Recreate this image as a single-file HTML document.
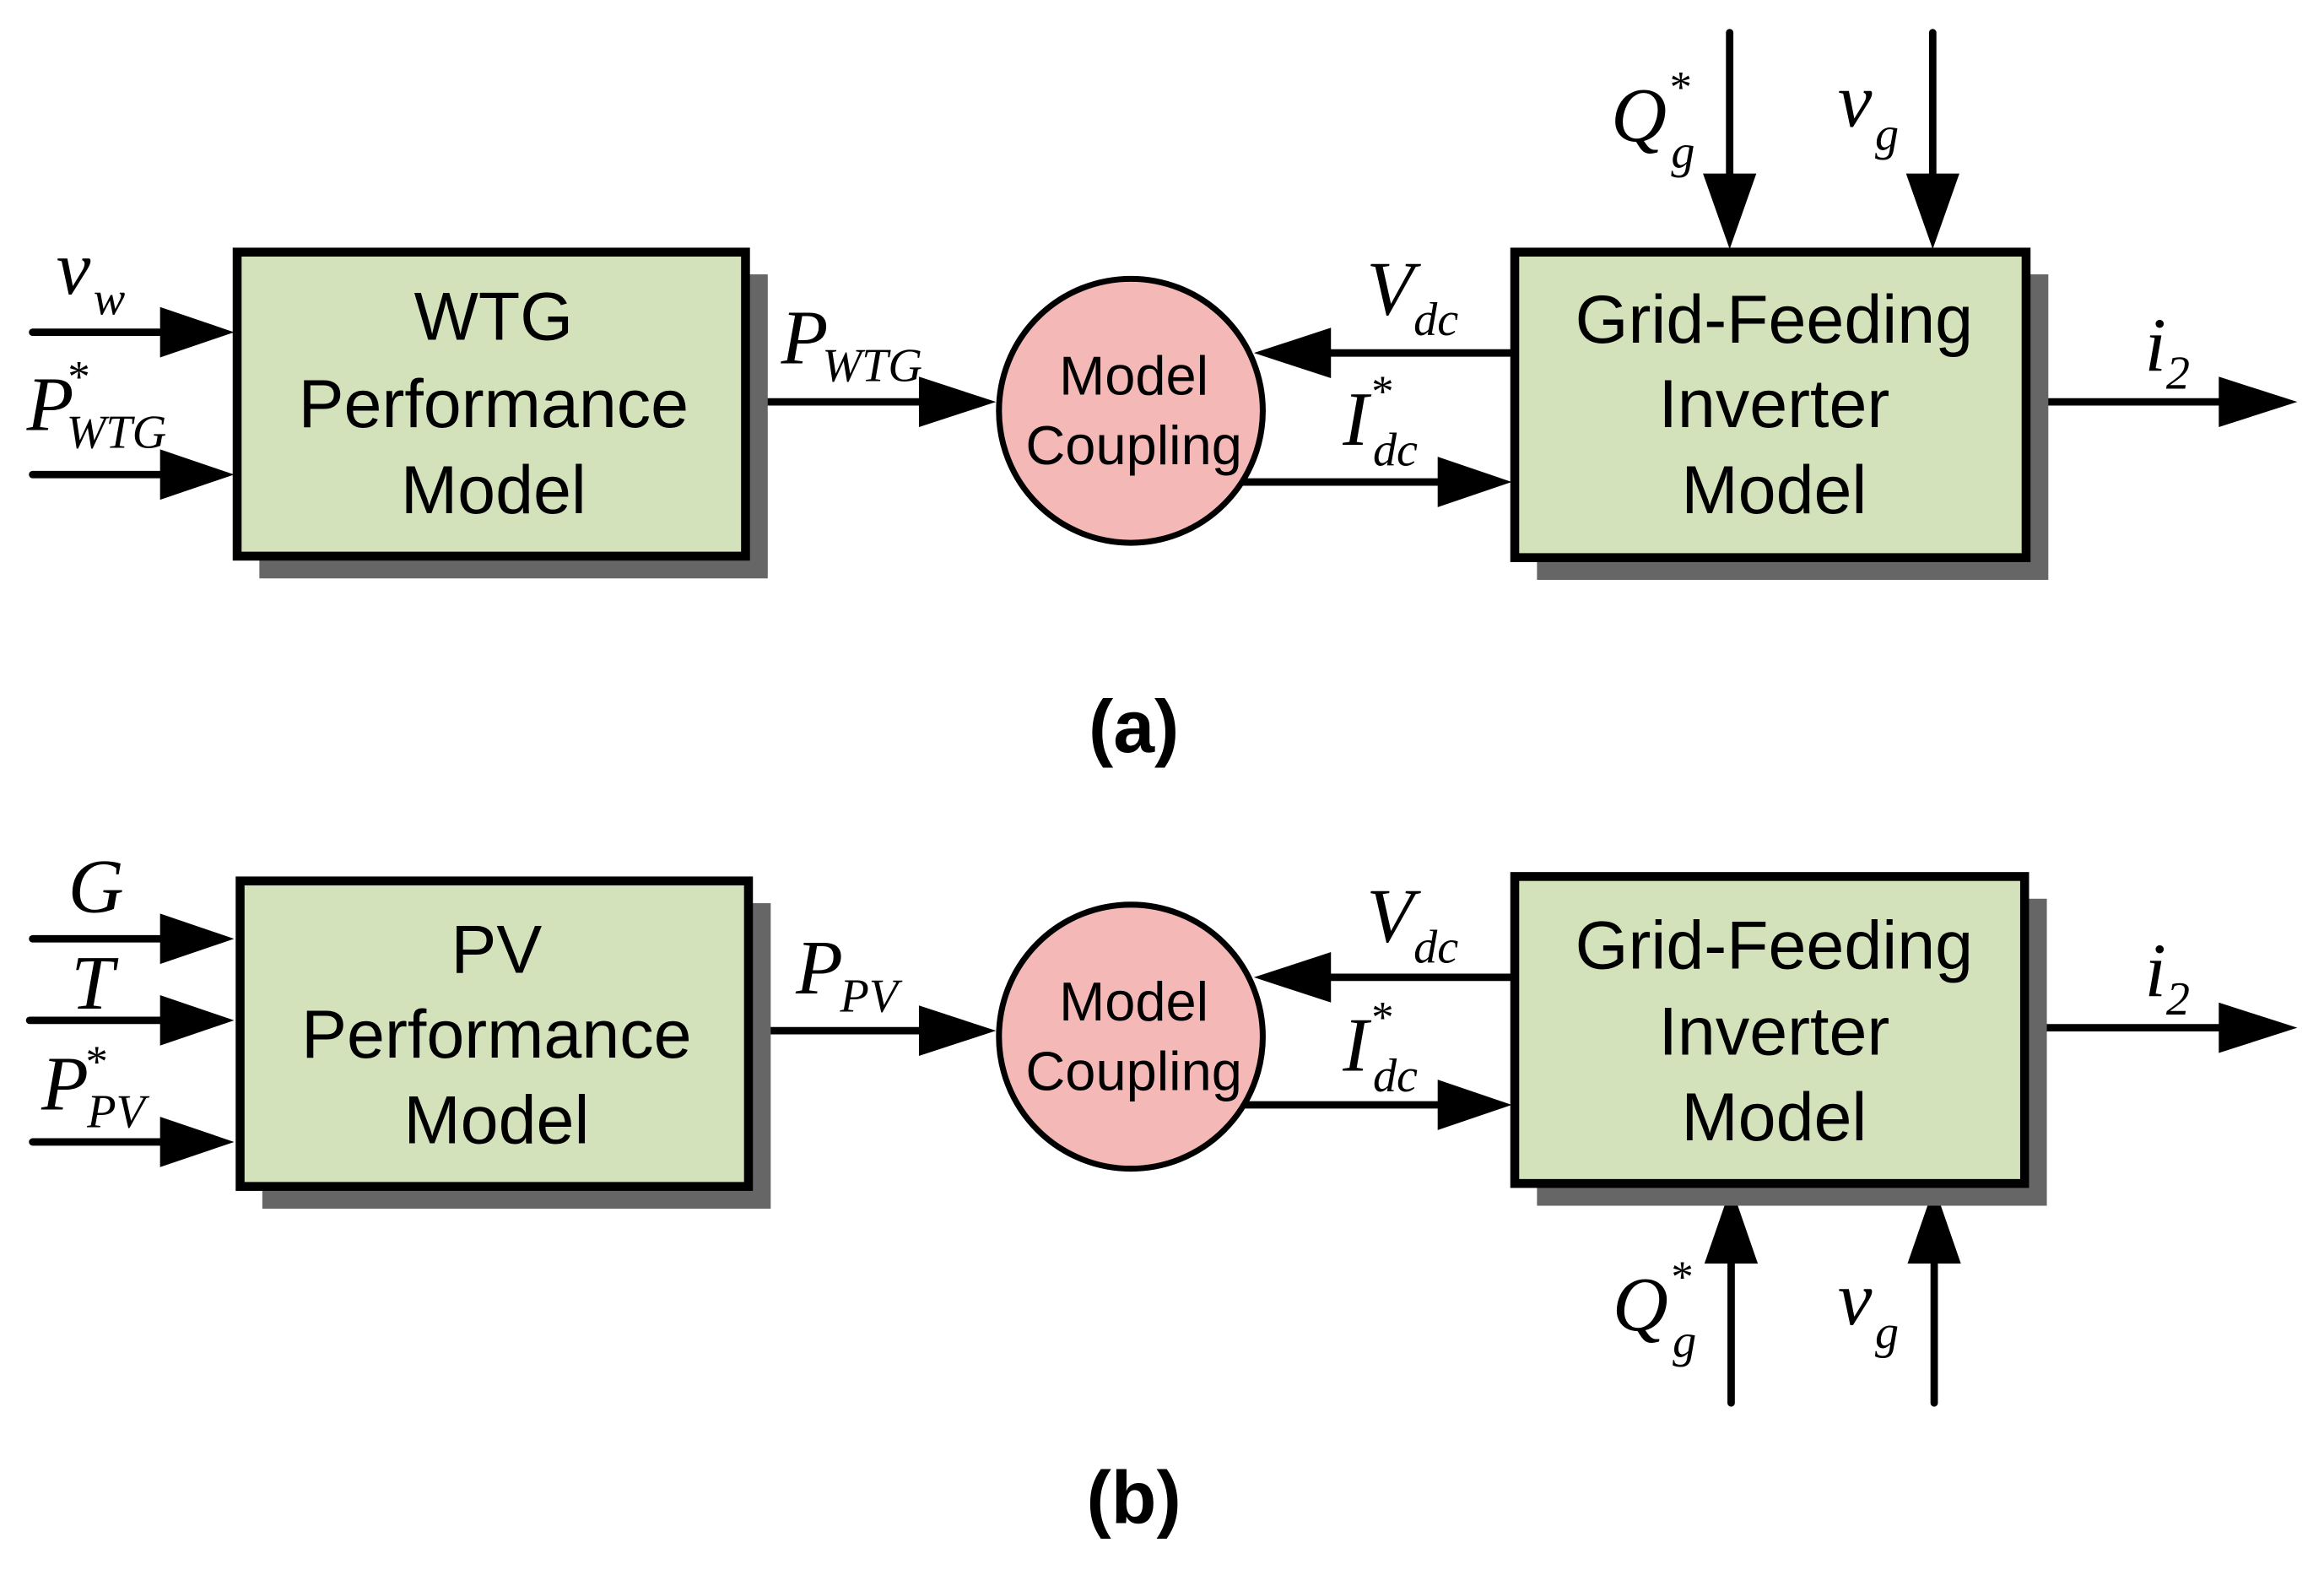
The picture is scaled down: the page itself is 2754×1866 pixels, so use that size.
<!DOCTYPE html>
<html><head><meta charset="utf-8"><style>
html,body{margin:0;padding:0;background:#fff;}
svg{display:block;}
.t{font-family:"Liberation Sans",sans-serif;font-size:46px;text-anchor:middle;fill:#000;}
.c{font-family:"Liberation Sans",sans-serif;font-size:37px;text-anchor:middle;fill:#000;}
.m{font-family:"Liberation Serif",serif;font-style:italic;font-size:52px;fill:#000;}
.s{font-size:32px;}
.st{font-size:30px;font-style:normal;}
.lb{font-family:"Liberation Sans",sans-serif;font-weight:bold;font-size:50px;text-anchor:middle;}
</style></head><body>
<svg width="2754" height="1866" viewBox="0 0 1568 1062" preserveAspectRatio="none" xmlns="http://www.w3.org/2000/svg">
<rect width="1568" height="1062" fill="#fff"/>
<g stroke="#000" stroke-width="5" fill="none" stroke-linecap="round">
<line x1="22" y1="224" x2="115" y2="224"/>
<line x1="22" y1="320" x2="115" y2="320"/>
<line x1="503" y1="271" x2="625" y2="271"/>
<line x1="1022" y1="238" x2="890" y2="238"/>
<line x1="838" y1="325" x2="975" y2="325"/>
<line x1="1167" y1="22" x2="1167" y2="125"/>
<line x1="1304" y1="22" x2="1304" y2="125"/>
<line x1="1367" y1="271" x2="1505" y2="271"/>
<line x1="22" y1="633" x2="115" y2="633"/>
<line x1="20" y1="688" x2="115" y2="688"/>
<line x1="22" y1="770" x2="115" y2="770"/>
<line x1="505" y1="695" x2="625" y2="695"/>
<line x1="1022" y1="659" x2="890" y2="659"/>
<line x1="838" y1="745" x2="975" y2="745"/>
<line x1="1168" y1="946" x2="1168" y2="845"/>
<line x1="1305" y1="946" x2="1305" y2="845"/>
<line x1="1366" y1="693" x2="1505" y2="693"/>
</g>
<g fill="#000">
<polygon points="108,207 158,224 108,241"/>
<polygon points="108,303 158,320 108,337"/>
<polygon points="620,254 672,271 620,288"/>
<polygon points="898,221 846,238 898,255"/>
<polygon points="970,308 1020,325 970,342"/>
<polygon points="1149,117 1185,117 1167,168"/>
<polygon points="1286,117 1322,117 1304,168"/>
<polygon points="1497,254 1550,271 1497,288"/>
<polygon points="108,616 158,633 108,650"/>
<polygon points="108,671 158,688 108,705"/>
<polygon points="108,753 158,770 108,787"/>
<polygon points="620,678 672,695 620,712"/>
<polygon points="898,642 846,659 898,676"/>
<polygon points="970,728 1020,745 970,762"/>
<polygon points="1150,852 1186,852 1168,800"/>
<polygon points="1287,852 1323,852 1305,800"/>
<polygon points="1497,676 1550,693 1497,710"/>
</g>
<g fill="#666">
<rect x="175" y="185" width="343" height="205"/>
<rect x="1037" y="185" width="345" height="206"/>
<rect x="177" y="609" width="343" height="206"/>
<rect x="1037" y="606" width="344" height="207"/>
</g>
<g fill="#d3e2bb" stroke="#000" stroke-width="6">
<rect x="160" y="170" width="343" height="205"/>
<rect x="1022" y="170" width="345" height="206"/>
<rect x="162" y="594" width="343" height="206"/>
<rect x="1022" y="591" width="344" height="207"/>
</g>
<g fill="#f4b9b6" stroke="#000" stroke-width="4">
<circle cx="763" cy="277" r="89"/>
<circle cx="763" cy="699" r="89"/>
</g>
<text class="t" x="333" y="229">WTG</text>
<text class="t" x="333" y="288">Performance</text>
<text class="t" x="333" y="346">Model</text>
<text class="t" x="1197" y="231">Grid-Feeding</text>
<text class="t" x="1197" y="288">Inverter</text>
<text class="t" x="1197" y="346">Model</text>
<text class="t" x="335" y="656">PV</text>
<text class="t" x="335" y="713">Performance</text>
<text class="t" x="335" y="771">Model</text>
<text class="t" x="1197" y="653">Grid-Feeding</text>
<text class="t" x="1197" y="711">Inverter</text>
<text class="t" x="1197" y="769">Model</text>
<text class="c" x="765" y="266">Model</text>
<text class="c" x="765" y="313">Coupling</text>
<text class="c" x="765" y="688">Model</text>
<text class="c" x="765" y="735">Coupling</text>
<text class="m" x="38" y="198">v<tspan class="s" dx="2" dy="14">w</tspan></text>
<text class="m" x="18" y="290">P<tspan class="st" dx="-4" dy="-26">*</tspan><tspan class="s" dx="-16" dy="38">WTG</tspan></text>
<text class="m" x="527" y="245">P<tspan class="s" dx="-4" dy="12">WTG</tspan></text>
<text class="m" x="922" y="212">V<tspan class="s" dx="0" dy="14">dc</tspan></text>
<text class="m" x="906" y="300">I<tspan class="st" dx="2" dy="-26">*</tspan><tspan class="s" dx="-14" dy="40">dc</tspan></text>
<text class="m" x="1087" y="95">Q<tspan class="st" dx="2" dy="-26">*</tspan><tspan class="s" dx="-14" dy="44">g</tspan></text>
<text class="m" x="1240" y="85">v<tspan class="s" dx="2" dy="16">g</tspan></text>
<text class="m" x="1447" y="250">i<tspan class="s" dx="0" dy="12">2</tspan></text>
<text class="lb" x="765" y="507">(a)</text>
<text class="m" x="46" y="615">G</text>
<text class="m" x="48" y="680">T</text>
<text class="m" x="28" y="748">P<tspan class="st" dx="-2" dy="-22">*</tspan><tspan class="s" dx="-14" dy="34">PV</tspan></text>
<text class="m" x="537" y="670">P<tspan class="s" dx="-2" dy="12">PV</tspan></text>
<text class="m" x="922" y="635">V<tspan class="s" dx="0" dy="14">dc</tspan></text>
<text class="m" x="906" y="722">I<tspan class="st" dx="2" dy="-26">*</tspan><tspan class="s" dx="-14" dy="40">dc</tspan></text>
<text class="m" x="1088" y="897">Q<tspan class="st" dx="2" dy="-26">*</tspan><tspan class="s" dx="-14" dy="44">g</tspan></text>
<text class="m" x="1240" y="893">v<tspan class="s" dx="2" dy="16">g</tspan></text>
<text class="m" x="1447" y="672">i<tspan class="s" dx="0" dy="12">2</tspan></text>
<text class="lb" x="765" y="1027">(b)</text>
</svg>
</body></html>
